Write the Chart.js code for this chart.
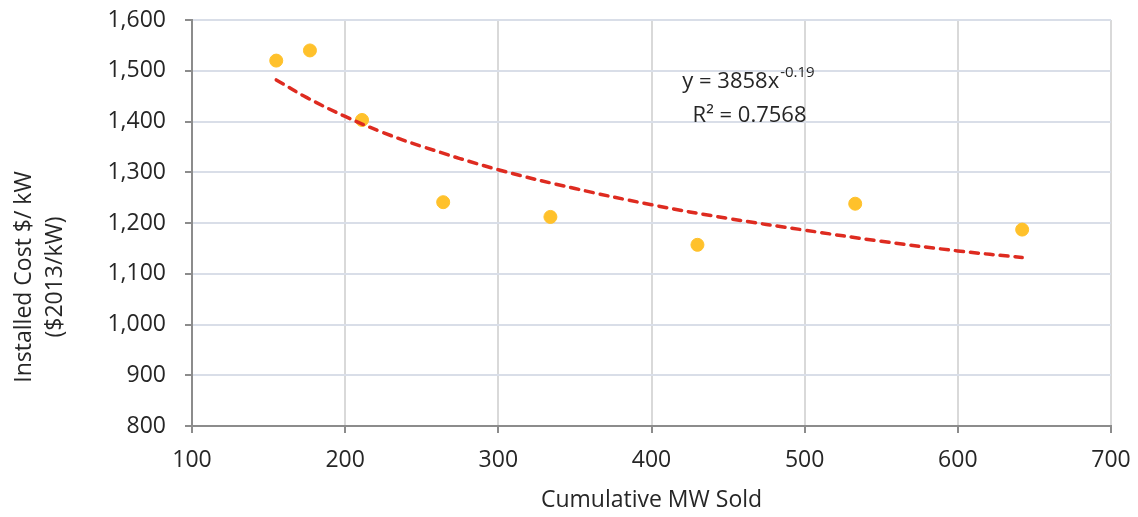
<!DOCTYPE html>
<html><head><meta charset="utf-8">
<script src="https://cdn.jsdelivr.net/npm/chart.js@4/dist/chart.umd.min.js"></script>
<style>html,body{margin:0;padding:0;background:#fff}#wrap{width:1138px;height:517px}</style>
</head><body><div id="wrap"><canvas id="c" width="1138" height="517"></canvas></div>
<script>
// Observed data points (Cumulative MW Sold vs Installed Cost $/kW)
const cumulativeMW = [155, 177, 211, 264, 334, 430, 533, 642];
const installedCost = [1520, 1540, 1403, 1241, 1212, 1157, 1238, 1187];
// Power trendline
const trendX = [155, 175, 200, 225, 250, 300, 350, 400, 450, 500, 550, 600, 642];
const trendY = [1482, 1447, 1410, 1378, 1351, 1305, 1268, 1236, 1209, 1186, 1164, 1145, 1132];
const xTicks = [100, 200, 300, 400, 500, 600, 700];
const yTicks = [800, 900, 1000, 1100, 1200, 1300, 1400, 1500, 1600];
const yTitle = ['Installed Cost $/ kW', '($2013/kW)'];
const xTitle = 'Cumulative MW Sold';
const eqText = "y = 3858x";
const eqExp = "-0.19";
const r2Text = "R² = 0.7568";

const FONT = "'Open Sans', Lato, sans-serif";
const FS = 23;
const EQFS = 22;
const pts = cumulativeMW.map((x,i)=>({x, y: installedCost[i]}));
const trend = trendX.map((x,i)=>({x, y: trendY[i]}));

const textPlugin = {
  id: 'txt',
  afterDatasetsDraw(chart){
    const ctx = chart.ctx;
    const xs = chart.scales.x, ys = chart.scales.y;
    ctx.save();
    ctx.fillStyle = '#262626';
    ctx.textBaseline = 'middle';
    // equation
    ctx.font = EQFS + 'px ' + FONT;
    const cx = xs.getPixelForValue(463), cy = ys.getPixelForValue(1478);
    const w1 = ctx.measureText(eqText).width;
    ctx.font = '15px ' + FONT;
    const w2 = ctx.measureText(eqExp).width;
    let start = cx - (w1 + w2)/2;
    ctx.font = EQFS + 'px ' + FONT;
    ctx.textAlign = 'left';
    ctx.fillText(eqText, start, cy);
    ctx.font = '15px ' + FONT;
    ctx.fillText(eqExp, start + w1 + 1, cy - 9);
    ctx.font = EQFS + 'px ' + FONT;
    ctx.textAlign = 'center';
    ctx.fillText(r2Text, xs.getPixelForValue(464), ys.getPixelForValue(1411));
    // y title
    ctx.font = FS + 'px ' + FONT;
    ctx.translate(24, 277);
    ctx.rotate(-Math.PI/2);
    ctx.fillText(yTitle[0], 0, 0);
    ctx.fillText(yTitle[1], 0, 31);
    ctx.restore();
  }
};

new Chart(document.getElementById('c'), {
  type: 'scatter',
  data: {
    datasets: [
      { data: pts, backgroundColor: '#FFC12B', borderColor: '#FFC12B', pointRadius: 6.5, pointHoverRadius: 6.5, order: 2 },
      { data: trend, showLine: true, borderColor: '#DE2B20', borderWidth: 3.5, borderDash: [8, 7], borderCapStyle: 'round', pointRadius: 0, tension: 0.4, fill: false, order: 1 }
    ]
  },
  options: {
    responsive: false, animation: false,
    layout: { padding: { top: 20, right: 27, left: 0, bottom: 0 } },
    plugins: { legend: { display: false }, tooltip: { enabled: false } },
    scales: {
      x: {
        type: 'linear', min: 100, max: 700,
        afterBuildTicks: a => { a.ticks = xTicks.map(v => ({ value: v })); },
        afterFit: a => { a.height = 91; a.paddingLeft = 0; a.paddingRight = 0; },
        grid: { color: '#D9D9D9', lineWidth: 2, tickLength: 7, tickColor: '#8C8C8C', tickWidth: 2 },
        border: { color: '#8C8C8C', width: 2 },
        ticks: { color: '#262626', font: { family: FONT, size: FS }, padding: 14, maxRotation: 0 },
        title: { display: true, text: xTitle, color: '#262626', font: { family: FONT, size: FS }, padding: { top: 4, bottom: 3 } }
      },
      y: {
        min: 800, max: 1600,
        afterBuildTicks: a => { a.ticks = yTicks.map(v => ({ value: v })); },
        afterFit: a => { a.width = 192; a.paddingTop = 0; a.paddingBottom = 0; },
        grid: { color: '#D9DEE8', lineWidth: 2, tickLength: 7, tickColor: '#8C8C8C', tickWidth: 2 },
        border: { color: '#8C8C8C', width: 2 },
        ticks: { color: '#262626', font: { family: FONT, size: FS }, padding: 19, callback: v => v.toLocaleString('en-US') },
        title: { display: false }
      }
    }
  },
  plugins: [textPlugin]
});
</script></body></html>
